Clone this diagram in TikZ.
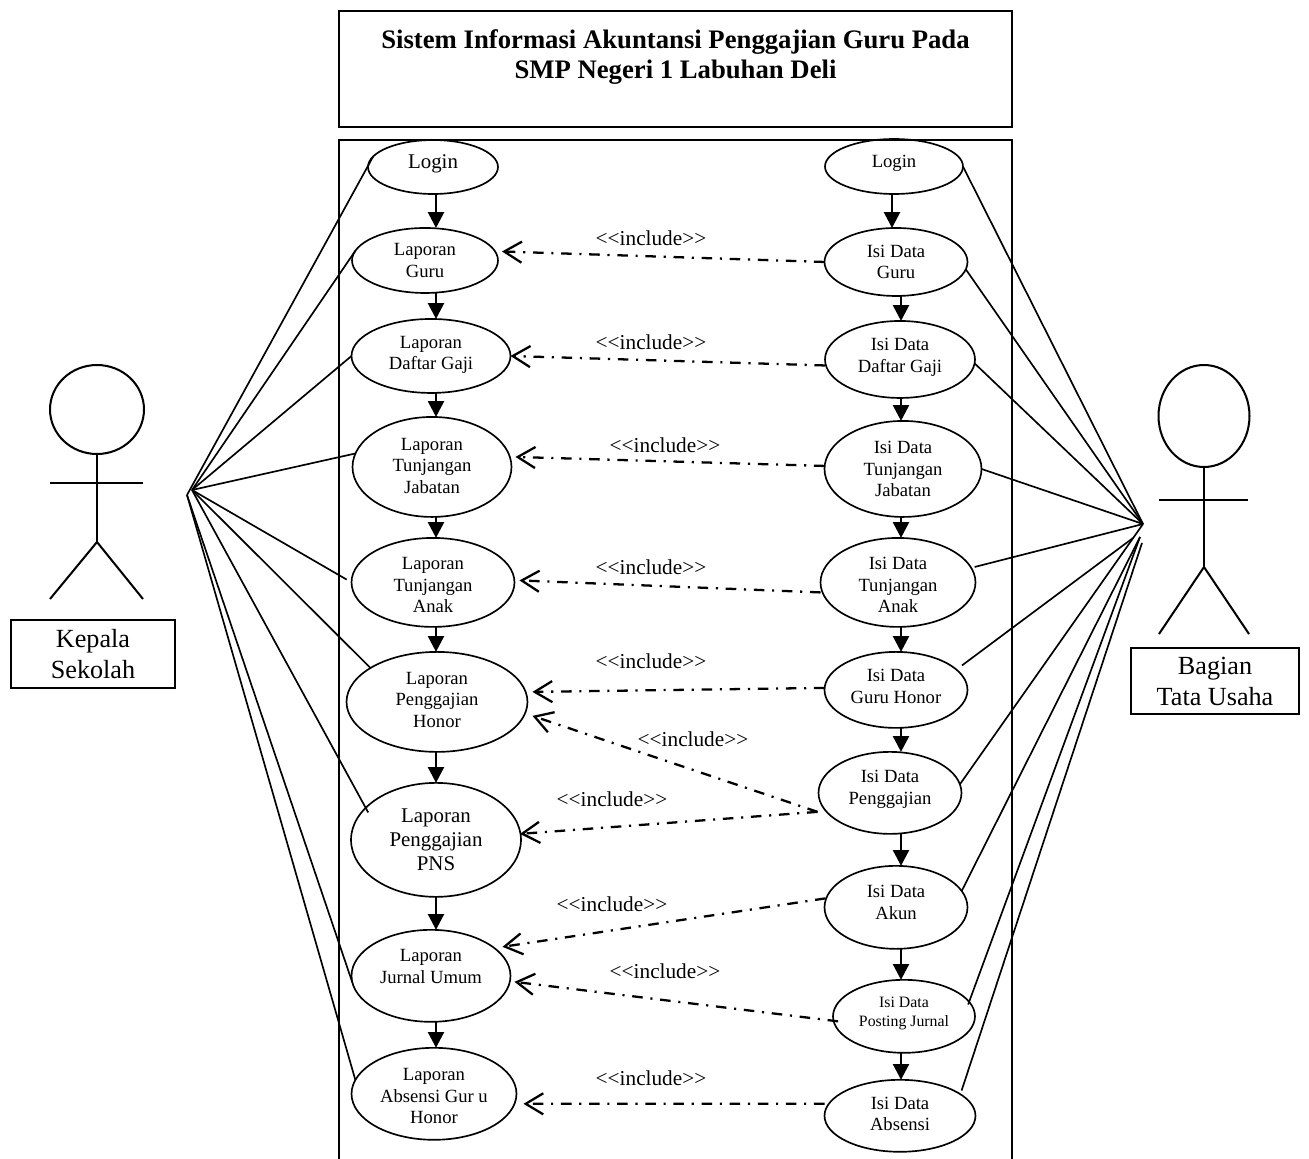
\documentclass[tikz,border=0pt]{standalone}
\usepackage{fontspec}
\setmainfont{Liberation Serif}
\usetikzlibrary{shapes.geometric, arrows.meta, positioning}

\newcommand{\inctext}{<{}<include>{}>}

\begin{document}
\begin{tikzpicture}[
      x=0.02cm,
      y=-0.02cm,
      ucase/.style={
          ellipse,
          draw,
          line width=0.95pt,
          inner sep=0pt,
          outer sep=0pt,
          align=center,
          font=\fontsize{10.6}{12.4}\selectfont
        },
      titlebox/.style={
          rectangle,
          draw,
          line width=0.9pt,
          align=center,
          inner sep=0pt,
          minimum width=134.6mm,
          minimum height=23.2mm,
          text depth=17pt,
          font=\fontsize{15.2}{17.6}\selectfont\bfseries
        },
      actorbox/.style={
          rectangle,
          draw,
          line width=0.8pt,
          align=center,
          inner sep=0pt,
          font=\fontsize{14.9}{17.6}\selectfont
        },
      head/.style={
          ellipse,
          draw,
          line width=1.15pt,
          inner sep=0pt,
          outer sep=0pt
        },
      limb/.style={
          line width=1.15pt
        },
      assoc/.style={
          line width=0.95pt
        },
      arrow/.style={
          -{Triangle[length=9pt,width=9pt]},
          line width=1.6pt
        },
      incl/.style={
          -{Straight Barb[length=10pt,width=12pt]},
          line width=1.3pt,
          dash pattern=on 6pt off 4.4pt on 1.2pt off 4.4pt
        },
      inclabel/.style={
          font=\fontsize{12.1}{14}\selectfont,
          inner sep=0pt
        }
    ]

    \useasboundingbox (0,0) rectangle (1309,1159);

    % Boxes
    \node[titlebox] (judul) at (675.5,69) {Sistem Informasi Akuntansi Penggajian Guru Pada\\SMP Negeri 1 Labuhan Deli};
    \draw[line width=0.9pt] (339,1159) |- (1012,140) -- (1012,1159);

    % Nodes kiri
    \node[ucase, minimum width=26mm, minimum height=10.8mm, text depth=6pt, font=\fontsize{11.9}{14}\selectfont] (loginKepala) at (433,167) {Login};
    \node[ucase, minimum width=29.2mm, minimum height=13mm, below=6.8mm of loginKepala, xshift=-1.6mm] (lapGuru) {Laporan\\Guru};
    \node[ucase, minimum width=31.8mm, minimum height=14.8mm, text depth=3.5pt, below=5.2mm of lapGuru, xshift=1.2mm] (lapGaji) {Laporan\\Daftar Gaji};
    \node[ucase, minimum width=31.8mm, minimum height=20mm, text depth=1.3pt, below=4.8mm of lapGaji, xshift=0.2mm] (lapJabatan) {Laporan\\Tunjangan\\Jabatan};
    \node[ucase, minimum width=32.6mm, minimum height=17.8mm, below=4.2mm of lapJabatan, xshift=0.2mm] (lapAnak) {\rule{0pt}{10pt}Laporan\\Tunjangan\\Anak};
    \node[ucase, minimum width=36.2mm, minimum height=20mm, text depth=2.3pt, below=5mm of lapAnak, xshift=0.8mm] (lapHonor) {Laporan\\Penggajian\\Honor};
    \node[ucase, minimum width=34mm, minimum height=22.8mm, below=6.2mm of lapHonor, xshift=-0.2mm, font=\fontsize{11.9}{13.7}\selectfont] (lapPNS) {Laporan\\Penggajian\\PNS};
    \node[ucase, minimum width=31.8mm, minimum height=18.4mm, text depth=11pt, below=6.6mm of lapPNS, xshift=-1mm] (lapJurnal) {Laporan\\Jurnal Umum};
    \node[ucase, minimum width=33mm, minimum height=18.4mm, below=5.2mm of lapJurnal, xshift=0.6mm] (lapAbsensi) {\rule{0pt}{9.5pt}Laporan\\Absensi Gur u\\Honor};

    % Nodes kanan
    \node[ucase, minimum width=27.6mm, minimum height=11mm, text depth=6pt] (loginTU) at (894,166.5) {Login};
    \node[ucase, minimum width=28.6mm, minimum height=13.6mm, below=6.8mm of loginTU, xshift=0.4mm] (isiGuru) {Isi Data\\Guru};
    \node[ucase, minimum width=30mm, minimum height=15.4mm, text depth=4.5pt, below=5mm of isiGuru, xshift=0.8mm] (isiGaji) {Isi Data\\Daftar Gaji};
    \node[ucase, minimum width=31.4mm, minimum height=19.2mm, below=4.6mm of isiGaji, xshift=0.6mm] (isiJabatan) {Isi Data\\Tunjangan\\Jabatan};
    \node[ucase, minimum width=31mm, minimum height=17.8mm, below=4.2mm of isiJabatan, xshift=-1mm] (isiAnak) {\rule{0pt}{10pt}Isi Data\\Tunjangan\\Anak};
    \node[ucase, minimum width=28.6mm, minimum height=15.2mm, text depth=4.5pt, below=5mm of isiAnak, xshift=-0.4mm] (isiHonor) {Isi Data\\Guru Honor};
    \node[ucase, minimum width=28.6mm, minimum height=16.4mm, text depth=6.5pt, below=4.8mm of isiHonor, xshift=-1.2mm] (isiPenggajian) {Isi Data\\Penggajian};
    \node[ucase, minimum width=28.6mm, minimum height=16.6mm, text depth=6pt, below=6.4mm of isiPenggajian, xshift=1.2mm] (isiAkun) {Isi Data\\Akun};
    \node[ucase, minimum width=28.4mm, minimum height=14.6mm, text depth=5.5pt, below=6.2mm of isiAkun, xshift=1.6mm, font=\fontsize{9}{11}\selectfont] (isiPosting) {Isi Data\\Posting Jurnal};
    \node[ucase, minimum width=30.2mm, minimum height=14.4mm, text depth=2.3pt, below=5.4mm of isiPosting, xshift=-0.8mm] (isiAbsensi) {Isi Data\\Absensi};

    % Labels
    \node[inclabel] (incA) at (651,238) {\inctext};
    \node[inclabel] (incB) at (651,342) {\inctext};
    \node[inclabel] (incC) at (665,445) {\inctext};
    \node[inclabel] (incD) at (651,567) {\inctext};
    \node[inclabel] (incE) at (651,661) {\inctext};
    \node[inclabel] (incF) at (693,739) {\inctext};
    \node[inclabel] (incG) at (612,799) {\inctext};
    \node[inclabel] (incH) at (612,904) {\inctext};
    \node[inclabel] (incI) at (665,971) {\inctext};
    \node[inclabel] (incJ) at (651,1078) {\inctext};

    % Aktor kiri
    \node[head, minimum width=18.8mm, minimum height=17.8mm] (headKepala) at (97,409.5) {};
    \coordinate (hipKepala) at (97,542);
    \coordinate (armKepalaL) at (50,483);
    \coordinate (armKepalaR) at (143,483);
    \coordinate (footKepalaL) at (50,599);
    \coordinate (footKepalaR) at (143,599);
    \draw[limb] (headKepala.south) -- (hipKepala);
    \draw[limb] (armKepalaL) -- (armKepalaR);
    \draw[limb] (footKepalaL) -- (hipKepala) -- (footKepalaR);
    \node[actorbox, minimum width=32.8mm, minimum height=13.6mm] (boxKepala) at (93,654) {Kepala\\Sekolah};

    % Aktor kanan
    \node[head, minimum width=18.2mm, minimum height=20.4mm] (headTU) at (1204,416) {};
    \coordinate (hipTU) at (1204,567);
    \coordinate (armTUL) at (1159,500);
    \coordinate (armTUR) at (1248,500);
    \coordinate (footTUL) at (1159,634);
    \coordinate (footTUR) at (1249,634);
    \draw[limb] (headTU.south) -- (hipTU);
    \draw[limb] (armTUL) -- (armTUR);
    \draw[limb] (footTUL) -- (hipTU) -- (footTUR);
    \node[actorbox, minimum width=33.6mm, minimum height=13.2mm] (boxTU) at (1215,681) {Bagian\\Tata Usaha};

    % Titik temu garis aktor
    \coordinate (hubKepala) at (192,490);
    \coordinate (hubKepalaB) at (187,495);
    \coordinate (hubTU) at (1143,524);
    \coordinate (hubTUB) at (1133,538);
    \coordinate (hubTUC) at (1140,537);
    \coordinate (hubTUD) at (1142,543);
    \coordinate (spineL) at (436,600);
    \coordinate (spineR) at (901,600);

    % Arrows
    \draw[arrow] (loginKepala.south -| spineL) -- (lapGuru.north -| spineL);
    \draw[arrow] (lapGuru.south -| spineL) -- (lapGaji.north -| spineL);
    \draw[arrow] (lapGaji.south -| spineL) -- (lapJabatan.north -| spineL);
    \draw[arrow] (lapJabatan.south -| spineL) -- (lapAnak.north -| spineL);
    \draw[arrow] (lapAnak.south -| spineL) -- (lapHonor.north -| spineL);
    \draw[arrow] (lapHonor.south -| spineL) -- (lapPNS.north -| spineL);
    \draw[arrow] (lapPNS.south -| spineL) -- (lapJurnal.north -| spineL);
    \draw[arrow] (lapJurnal.south -| spineL) -- (lapAbsensi.north -| spineL);

    \draw[arrow] ([shift={(-2,0)}]loginTU.south) -- ([shift={(-2,0)}]loginTU.south |- isiGuru.north);
    \draw[arrow] (isiGuru.south -| spineR) -- (isiGaji.north -| spineR);
    \draw[arrow] (isiGaji.south -| spineR) -- (isiJabatan.north -| spineR);
    \draw[arrow] (isiJabatan.south -| spineR) -- (isiAnak.north -| spineR);
    \draw[arrow] (isiAnak.south -| spineR) -- (isiHonor.north -| spineR);
    \draw[arrow] (isiHonor.south -| spineR) -- (isiPenggajian.north -| spineR);
    \draw[arrow] (isiPenggajian.south -| spineR) -- (isiAkun.north -| spineR);
    \draw[arrow] (isiAkun.south -| spineR) -- (isiPosting.north -| spineR);
    \draw[arrow] (isiPosting.south -| spineR) -- (isiAbsensi.north -| spineR);

    \draw[incl] (isiGuru.west) -- ([shift={(4,-9)}]lapGuru.east);
    \draw[incl] ([shift={(0,6)}]isiGaji.west) -- (lapGaji.east);
    \draw[incl] ([shift={(0,-3)}]isiJabatan.west) -- ([shift={(4,-10)}]lapJabatan.east);
    \draw[incl] ([shift={(0,10)}]isiAnak.west) -- ([shift={(5,-2)}]lapAnak.east);
    \draw[incl] ([shift={(0,-2)}]isiHonor.west) -- ([shift={(5,-10)}]lapHonor.east);
    \draw[incl] ([shift={(-1,19)}]isiPenggajian.west) -- ([shift={(5,14)}]lapHonor.east);
    \draw[incl] ([shift={(-1,19)}]isiPenggajian.west) -- ([shift={(-1,-6)}]lapPNS.east);
    \draw[incl] ([shift={(1,-9)}]isiAkun.west) -- ([shift={(-8,-29)}]lapJurnal.east);
    \draw[incl] ([shift={(5,5)}]isiPosting.west) -- ([shift={(4,6)}]lapJurnal.east);
    \draw[incl] ([shift={(0,-12)}]isiAbsensi.west) -- ([shift={(7,10)}]lapAbsensi.east);

    \draw[assoc] (hubKepalaB) -- (loginKepala.170);
    \draw[assoc] (hubKepala) -- (lapGuru.172);
    \draw[assoc] (hubKepala) -- (lapGaji.west);
    \draw[assoc] (hubKepala) -- (lapJabatan.170);
    \draw[assoc] (hubKepala) -- ([shift={(-5,0)}]lapAnak.178);
    \draw[assoc] (hubKepala) -- (lapHonor.153);
    \draw[assoc] (hubKepala) -- ([shift={(5,2)}]lapPNS.158);
    \draw[assoc] (hubKepalaB) -- (lapJurnal.185);
    \draw[assoc] (hubKepalaB) -- (lapAbsensi.170);

    \draw[assoc] (hubTU) -- (loginTU.east);
    \draw[assoc] (hubTU) -- (isiGuru.354);
    \draw[assoc] (hubTU) -- (isiGaji.357);
    \draw[assoc] (hubTU) -- (isiJabatan.east);
    \draw[assoc] (hubTU) -- ([shift={(4,0)}]isiAnak.12);
    \draw[assoc] (hubTUB) -- ([shift={(7,-3)}]isiHonor.20);
    \draw[assoc] (hubTU) -- (isiPenggajian.7);
    \draw[assoc] (hubTUC) -- (isiAkun.14);
    \draw[assoc] (hubTUC) -- ([shift={(-3,0)}]isiPosting.10);
    \draw[assoc] (hubTUD) -- ([shift={(4,-2)}]isiAbsensi.22);

  \end{tikzpicture}
\end{document}
